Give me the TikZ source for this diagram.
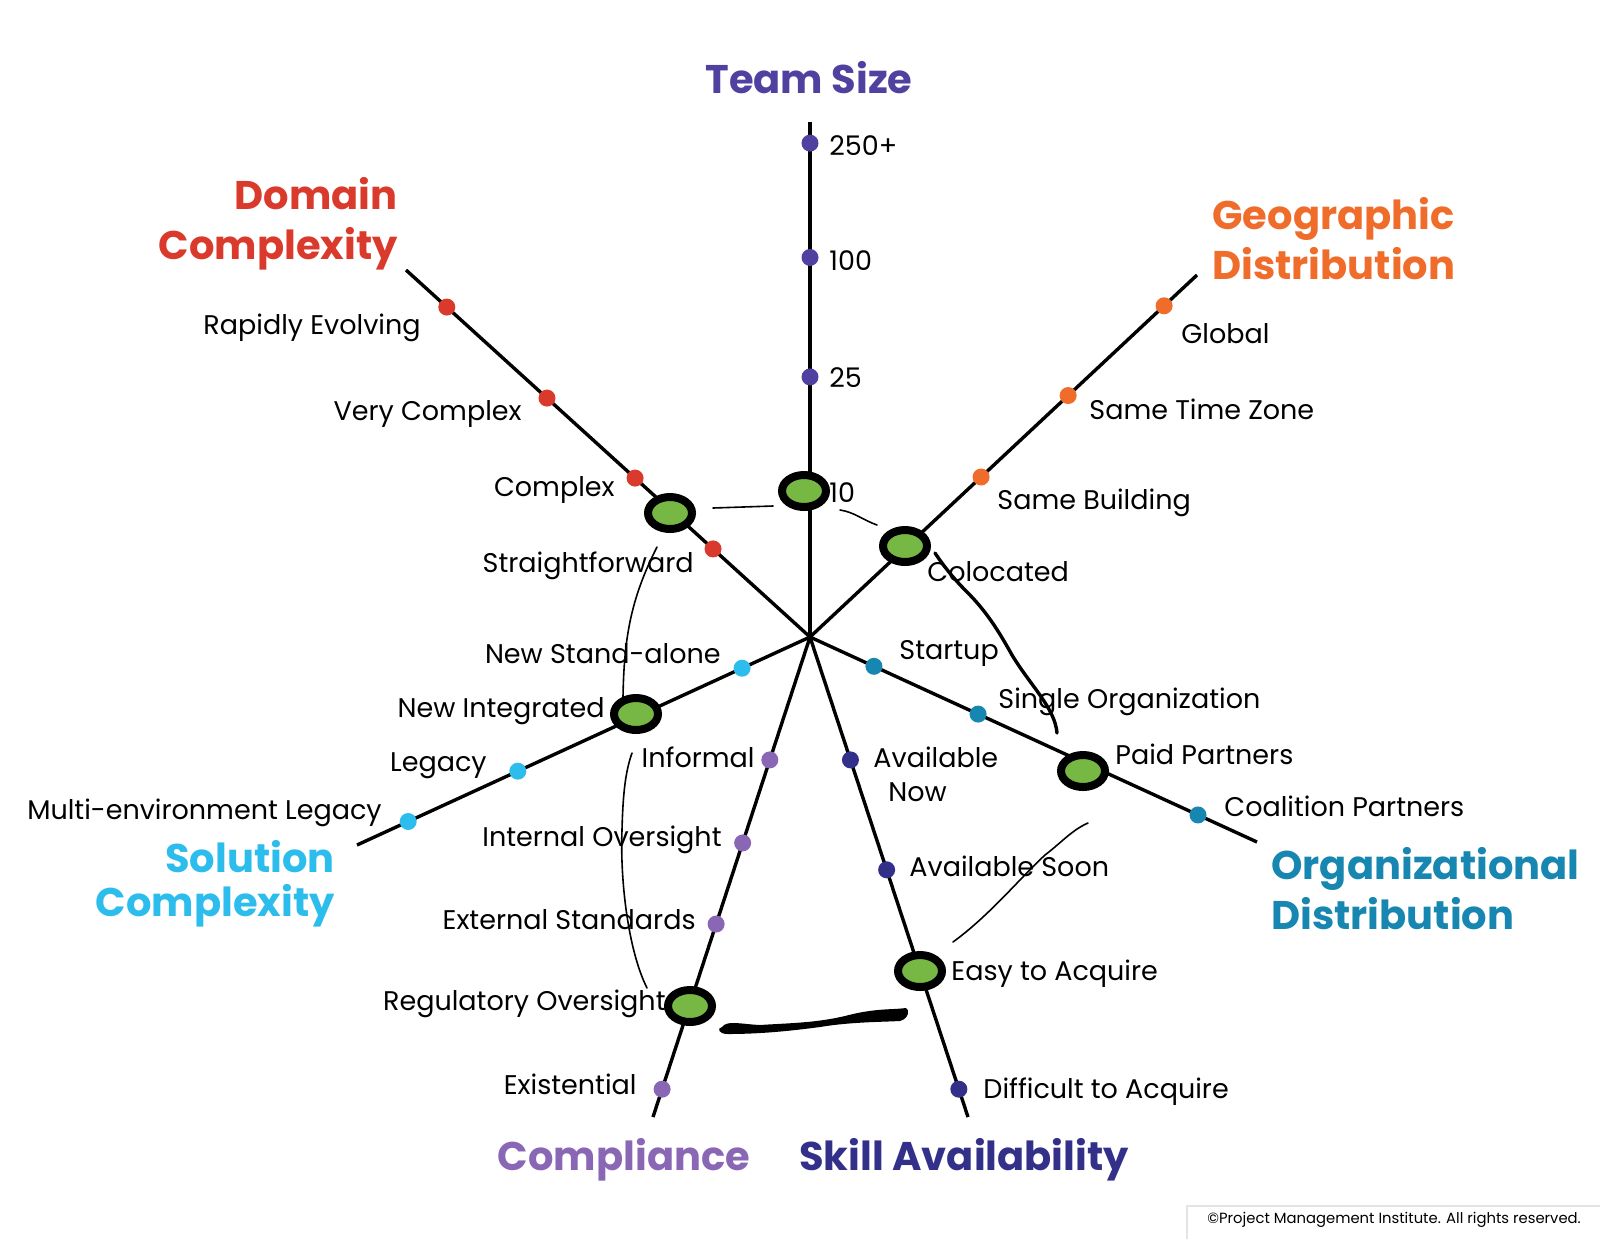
\documentclass[tikz,border=0pt]{standalone}
\usepackage{fontspec}
\setmainfont{Poppins}
\usetikzlibrary{shapes.geometric,calc}

\definecolor{teamc}{HTML}{50409F}
\definecolor{domc}{HTML}{DA3A2B}
\definecolor{geoc}{HTML}{EF6C2A}
\definecolor{orgc}{HTML}{1786B0}
\definecolor{solc}{HTML}{2DBDEC}
\definecolor{comc}{HTML}{8967B5}
\definecolor{skic}{HTML}{33308A}
\definecolor{ovalg}{HTML}{76B843}
\definecolor{framec}{HTML}{E4E4E4}

\begin{document}
\begin{tikzpicture}[x=0.5pt,y=-0.5pt,
  axis/.style={line width=1.7pt,black},
  dot/.style={circle,inner sep=0pt,minimum size=8.5pt,fill=#1},
  oval/.style={ellipse,draw=black,line width=4pt,fill=ovalg,minimum width=22pt,minimum height=16pt,inner sep=0pt},
  lab/.style={font=\fontsize{13.5}{17}\selectfont,inner sep=0pt,text height=11.5pt,text depth=2.5pt},
  ttl/.style={font=\fontsize{20}{25}\selectfont\bfseries,inner sep=0pt,text=#1},
  hand/.style={line width=0.8pt,black,line cap=round},
  handthick/.style={line width=1.7pt,black,line cap=round,line join=round}]

\fill[white] (0,0) rectangle (1600,1239);
\useasboundingbox (0,0) rectangle (1600,1239);

% hub and axis ends
\coordinate (C) at (810,637);
\coordinate (T) at (810,122);
\coordinate (D) at (406,270);
\coordinate (G) at (1197,275);
\coordinate (O) at (1257,842);
\coordinate (S) at (357,845);
\coordinate (P) at (653,1117);
\coordinate (K) at (968,1117);

\foreach \e in {T,D,G,O,S,P,K} \draw[axis] (C) -- (\e);

% titles
\node[ttl=teamc,anchor=base] (tteam) at (809,93) {Team Size};
\node[ttl=domc,anchor=north east,align=right] (tdom) at (398,177) {Domain\\Complexity};
\node[ttl=geoc,anchor=north west,align=left] (tgeo) at (1212,197) {Geographic\\Distribution};
\node[ttl=orgc,anchor=north west,align=left] (torg) at (1271,847) {Organizational\\Distribution};
\node[ttl=solc,anchor=north east,align=right,font=\fontsize{20}{22}\selectfont\bfseries] (tsol) at (335,840) {Solution\\Complexity};
\node[ttl=comc,anchor=base] (tcom) at (624,1170) {Compliance};
\node[ttl=skic,anchor=base] (tski) at (964,1170) {Skill Availability};

% Team Size
\node[dot=teamc] (t250) at ($(C)!0.959!(T)$) {};
\node[dot=teamc] (t100) at ($(C)!0.737!(T)$) {};
\node[dot=teamc] (t25)  at ($(C)!0.505!(T)$) {};
\node[lab,anchor=west] (l250) at (829,146) {250+};
\node[lab,anchor=west] (l100) at (829,261) {100};
\node[lab,anchor=west] (l25)  at (829,378) {25};
\node[lab,anchor=west] (l10)  at (829,493) {10};

% Domain Complexity
\node[dot=domc] (d1) at ($(C)!0.899!(D)$) {};
\node[dot=domc] (d2) at ($(C)!0.651!(D)$) {};
\node[dot=domc] (d3) at ($(C)!0.433!(D)$) {};
\node[dot=domc] (d4) at ($(C)!0.240!(D)$) {};
\node[lab,anchor=east] (ld1) at (421,325) {Rapidly Evolving};
\node[lab,anchor=east] (ld2) at (522,411) {Very Complex};
\node[lab,anchor=east] (ld3) at (615,487) {Complex};
\node[lab,anchor=east] (ld4) at (694,563) {Straightforward};

% Geographic Distribution
\node[dot=geoc] (g1) at ($(C)!0.915!(G)$) {};
\node[dot=geoc] (g2) at ($(C)!0.667!(G)$) {};
\node[dot=geoc] (g3) at ($(C)!0.442!(G)$) {};
\node[lab,anchor=west] (lg1) at (1181,334) {Global};
\node[lab,anchor=west] (lg2) at (1089,410) {Same Time Zone};
\node[lab,anchor=west] (lg3) at (997,500) {Same Building};

% Organizational Distribution
\node[dot=orgc] (o1) at ($(C)!0.143!(O)$) {};
\node[dot=orgc] (o2) at ($(C)!0.376!(O)$) {};
\node[dot=orgc] (o4) at ($(C)!0.868!(O)$) {};
\node[lab,anchor=west] (lo1) at (899,650) {Startup};
\node[lab,anchor=west] (lo2) at (998,699) {Single Organization};
\node[lab,anchor=west] (lo3) at (1115,755) {Paid Partners};
\node[lab,anchor=west] (lo4) at (1224,807) {Coalition Partners};

% Solution Complexity
\node[dot=solc] (s1) at ($(C)!0.150!(S)$) {};
\node[dot=solc] (s3) at ($(C)!0.645!(S)$) {};
\node[dot=solc] (s4) at ($(C)!0.887!(S)$) {};
\node[lab,anchor=east] (ls1) at (721,654) {New Stand-alone};
\node[lab,anchor=east] (ls2) at (605,708) {New Integrated};
\node[lab,anchor=east] (ls3) at (487,762) {Legacy};
\node[lab,anchor=east] (ls4) at (382,810) {Multi-environment Legacy};

% Compliance
\node[dot=comc] (c1) at ($(C)!0.256!(P)$) {};
\node[dot=comc] (c2) at ($(C)!0.429!(P)$) {};
\node[dot=comc] (c3) at ($(C)!0.598!(P)$) {};
\node[dot=comc] (c5) at ($(C)!0.942!(P)$) {};
\node[lab,anchor=east] (lc1) at (755,758) {Informal};
\node[lab,anchor=east] (lc2) at (722,837) {Internal Oversight};
\node[lab,anchor=east] (lc3) at (696,920) {External Standards};
\node[lab,anchor=east] (lc4) at (666,1001) {Regulatory Oversight};
\node[lab,anchor=east] (lc5) at (637,1085) {Existential};

% Skill Availability
\node[dot=skic] (k1) at ($(C)!0.256!(K)$) {};
\node[dot=skic] (k2) at ($(C)!0.485!(K)$) {};
\node[dot=skic] (k4) at ($(C)!0.942!(K)$) {};
\node[lab,anchor=north west,align=left,text height=,text depth=] (lk1) at (873,747) {Available\\\hspace*{7.5pt}Now};
\node[lab,anchor=west] (lk2) at (909,867) {Available Soon};
\node[lab,anchor=west] (lk3) at (951,971) {Easy to Acquire};
\node[lab,anchor=west] (lk4) at (983,1089) {Difficult to Acquire};

% selected profile
\node[oval] (teamov) at (804,491) {};
\node[oval] (domov)  at (670,513) {};
\node[oval] (geoov)  at (905,546) {};
\node[oval] (orgov)  at (1083,771) {};
\node[oval] (solov)  at (636,714) {};
\node[oval] (comov)  at (690,1006) {};
\node[oval] (skov)   at (920,971) {};
\node[lab,anchor=west] (lg4) at (927,572) {Colocated};

% hand-drawn profile outline
\coordinate (a1) at ($(domov)+(43,-5)$);
\coordinate (a2) at ($(teamov)+(-31,15)$);
\draw[hand] (a1) -- (a2);

\coordinate (b1) at ($(teamov)+(36,19)$);
\coordinate (b2) at ($(geoov)+(-28,-21)$);
\draw[hand] (b1) .. controls ($(b1)+(14,2)$) and ($(b2)+(-14,-5)$) .. (b2);

\coordinate (e1) at ($(geoov)+(30,7)$);
\coordinate (e2) at ($(orgov)+(-26,-38)$);
\draw[handthick] (e1) .. controls (945,568) and (955,580) .. (967,592)
  .. controls (985,610) and (997,628) .. (1012,655)
  .. controls (1030,685) and (1055,708) .. (e2);

\coordinate (f1) at ($(orgov)+(5,52)$);
\coordinate (f2) at ($(skov)+(33,-29)$);
\draw[hand] (f1) .. controls (1072,830) and (1062,842) .. (1045,855)
  .. controls (1020,878) and (990,915) .. (f2);

\coordinate (h1) at ($(skov)+(-14,37)$);
\coordinate (h2) at ($(comov)+(32,21)$);
\fill[black] (h1) .. controls (890,1010) and (875,1008) .. (845,1016)
  .. controls (815,1023) and (790,1023) .. (760,1025)
  .. controls (740,1024) and (727,1020) .. (h2)
  .. controls (717,1028) and (718,1034) .. (728,1034)
  .. controls (760,1034) and (790,1031) .. (820,1027)
  .. controls (850,1022) and (880,1022) .. (900,1021)
  .. controls (910,1018) and (909,1009) .. (h1) -- cycle;

\coordinate (m1) at ($(comov)+(-43,-18)$);
\coordinate (m2) at ($(solov)+(-4,39)$);
\draw[hand] (m1) .. controls (628,950) and (620,880) .. (622,830)
  .. controls (623,790) and (626,770) .. (m2);

\coordinate (n1) at ($(solov)+(-13,-17)$);
\coordinate (n2) at ($(domov)+(-13,34)$);
\draw[hand] (n1) .. controls (624,640) and (630,600) .. (n2);

% copyright frame
\draw[framec,line width=1pt] (1187,1239) -- (1187,1206) -- (1600,1206);
\node[font=\fontsize{7.4}{9}\selectfont,anchor=west,inner sep=0pt] (copy) at (1207,1220) {©Project Management Institute. All rights reserved.};
\end{tikzpicture}
\end{document}
